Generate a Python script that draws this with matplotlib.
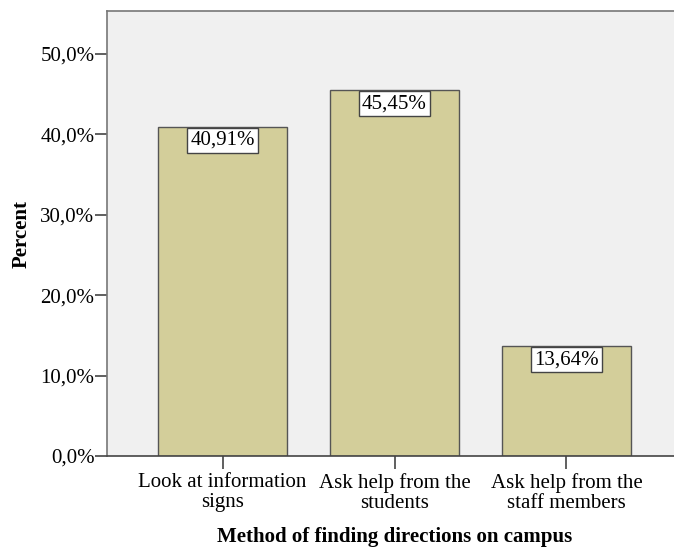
import matplotlib.pyplot as plt
from matplotlib.ticker import FuncFormatter

plt.rcParams['font.family'] = ['Liberation Serif', 'DejaVu Serif']

# data
categories = ['Look at information\nsigns', 'Ask help from the\nstudents', 'Ask help from the\nstaff members']
percents = [40.91, 45.45, 13.64]
yticks = [0, 10, 20, 30, 40, 50]

fig = plt.figure(figsize=(6.74, 5.47), dpi=100)
ax = fig.add_axes([107 / 674, (547 - 456) / 547, 575 / 674, 445 / 547])
ax.set_facecolor('#F0F0F0')

x = list(range(len(categories)))
ax.bar(x, percents, width=0.75, color='#D3CE9A', edgecolor='#555555', linewidth=1.0, zorder=2)

for xi, v in zip(x, percents):
    ax.annotate(f'{v:.2f}%'.replace('.', ','), xy=(xi, v), xytext=(0, -2.8),
                textcoords='offset points', ha='center', va='top', fontsize=15,
                bbox=dict(boxstyle='square,pad=0.14', fc='white', ec='#444444', lw=1.0),
                zorder=3)

ax.set_xlim(-0.672, 2.672)
ax.set_ylim(0, 55.3)
ax.set_xticks(x)
ax.set_xticklabels(categories, fontsize=15, linespacing=1.05)
ax.set_yticks(yticks)
ax.yaxis.set_major_formatter(FuncFormatter(lambda v, p: f'{v:.1f}%'.replace('.', ',')))
ax.tick_params(axis='y', labelsize=15, length=9, width=1.2, color='#444444', pad=0)
ax.tick_params(axis='x', length=9.5, width=1.2, color='#444444', pad=3)

for s in ['top', 'left']:
    ax.spines[s].set_color('#777777')
    ax.spines[s].set_linewidth(1.2)
ax.spines['right'].set_visible(False)
ax.spines['bottom'].set_color('#444444')
ax.spines['bottom'].set_linewidth(1.2)

ax.set_ylabel('Percent', fontsize=15, fontweight='bold', labelpad=6)
ax.set_xlabel('Method of finding directions on campus', fontsize=15, fontweight='bold', labelpad=10)

fig.savefig('out.png', dpi=100)
